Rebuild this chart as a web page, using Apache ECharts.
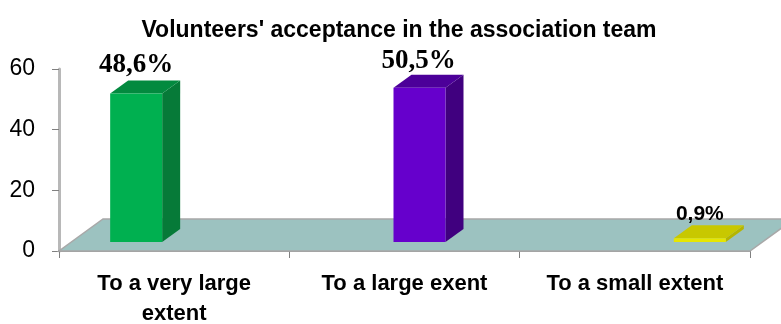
<!DOCTYPE html>
<html><head><meta charset="utf-8">
<style>html,body{margin:0;padding:0;background:#fff}#c{width:781px;height:324px}</style>
<script src="https://cdn.jsdelivr.net/npm/echarts@6/dist/echarts.min.js"></script>
</head><body><div id="c"></div>
<script>
const categories = ['To a very large\nextent', 'To a large exent', 'To a small extent'];
const values = [48.6, 50.5, 0.9];
const labels = ['48,6%', '50,5%', '0,9%'];
const yTicks = [0, 20, 40, 60];
const frontColors = ['#00b050', '#6600cc', '#e6e600'];
const topColors = ['#038a3f', '#4c0099', '#c8c800'];
const sideColors = ['#067a38', '#40007f', '#b5b500'];
const barShift = [-38, 15, 65];
const labelStyle = [
  {font:'bold 27px "Liberation Serif"', dx:0, dy:-29},
  {font:'bold 27px "Liberation Serif"', dx:-1, dy:-27},
  {font:'bold 21px "Liberation Sans"', dx:0, dy:-24}
];

const chart = echarts.init(document.getElementById('c'), null, {renderer:'canvas'});
const barW = 52, dx = 18, dy = 13, lift = 9;

chart.setOption({
  animation:false,
  backgroundColor:'#fff',
  title:{text:"Volunteers' acceptance in the association team", left:394, top:14, textAlign:'center',
    textStyle:{fontFamily:'"Liberation Sans"', fontWeight:'bold', fontSize:23, color:'#000'}},
  grid:{left:59, right:31, top:69, bottom:73, outerBoundsMode:'none'},
  xAxis:{type:'category', data:categories, boundaryGap:true,
    axisLine:{show:true, lineStyle:{color:'#9a9a9a', width:2}},
    axisTick:{show:true, length:7, alignWithLabel:false, lineStyle:{color:'#808080'}},
    axisLabel:{fontFamily:'"Liberation Sans"', fontWeight:'bold', fontSize:22, color:'#000', margin:18, lineHeight:30, interval:0}},
  yAxis:{type:'value', min:0, max:60, interval:20,
    axisLine:{show:true, lineStyle:{color:'#b8b8b8', width:3}},
    axisTick:{show:true, length:7, lineStyle:{color:'#808080'}},
    splitLine:{show:false},
    axisLabel:{fontFamily:'"Liberation Sans"', fontSize:23, color:'#000', margin:24,
      customValues:yTicks}},
  series:[
    {type:'custom', coordinateSystem:'cartesian2d', clip:false, z:1, silent:true,
     data:[[0,0]],
     renderItem(params, api){
       const cs = params.coordSys;
       const y0 = api.coord([0,0])[1];
       const l = cs.x, r = cs.x+cs.width, back = y0-32, d = 44;
       return {type:'group', children:[
         {type:'polygon', shape:{points:[[l,y0],[r,y0],[r+d,back],[l+d,back]]},
          style:{fill:'#9cc2c0', stroke:'#a8a8a8', lineWidth:1.5}}
       ]};
     }},
    {type:'custom', coordinateSystem:'cartesian2d', clip:false, z:2, silent:true,
     data:values.map((v,i)=>[i,v]),
     encode:{x:0,y:1},
     renderItem(params, api){
       const i = api.value(0), v = api.value(1);
       const c = api.coord([i,v]), base = api.coord([i,0]);
       const x0 = c[0]+barShift[i]-barW/2, x1 = x0+barW;
       const yb = base[1]-lift, yt = c[1]-lift-1;
       const ls = labelStyle[i];
       return {type:'group', children:[
         {type:'polygon', shape:{points:[[x1,yt],[x1+dx,yt-dy],[x1+dx,yb-dy],[x1,yb]]}, style:{fill:sideColors[i]}},
         {type:'polygon', shape:{points:[[x0,yt],[x0+dx,yt-dy],[x1+dx,yt-dy],[x1,yt]]}, style:{fill:topColors[i]}},
         {type:'rect', shape:{x:x0,y:yt,width:barW,height:yb-yt}, style:{fill:frontColors[i]}},
         {type:'text', style:{text:labels[i], x:x0+barW/2+ls.dx, y:yt+ls.dy, align:'center', verticalAlign:'middle', font:ls.font, fill:'#000'}}
       ]};
     }}
  ]
});
</script></body></html>
